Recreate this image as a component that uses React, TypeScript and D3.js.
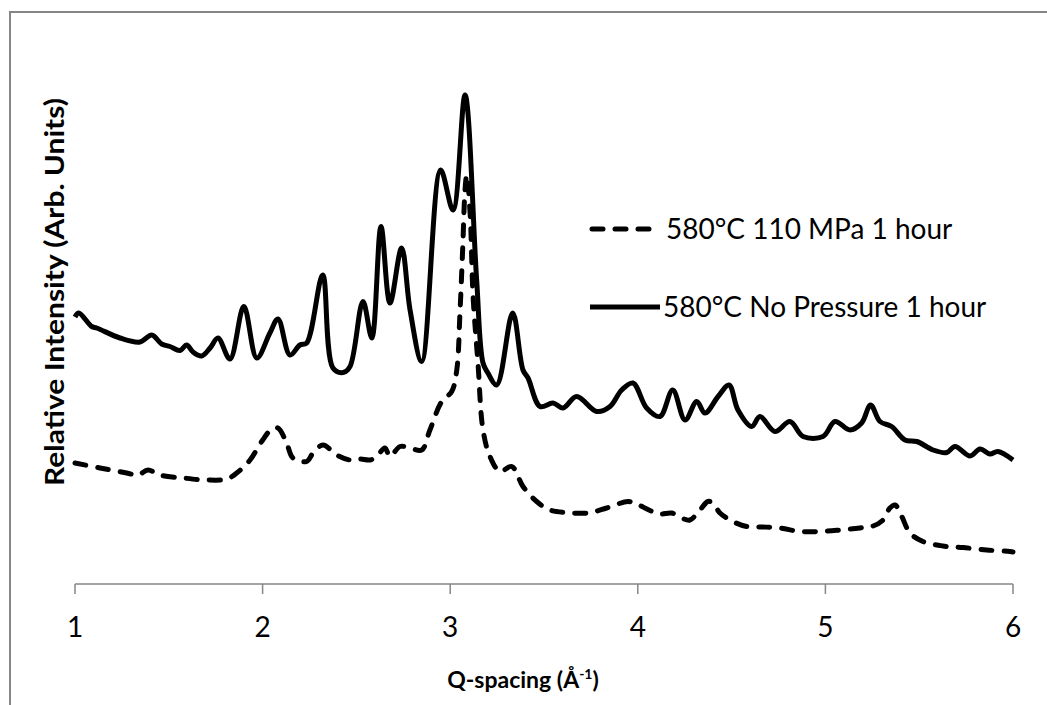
import React from "react";
import * as d3 from "d3";

const xTicks = [1, 2, 3, 4, 5, 6];

// 580°C No Pressure 1 hour (solid)
const solidQ = [1.0, 1.02, 1.089, 1.116, 1.24, 1.346, 1.409, 1.462, 1.506, 1.56, 1.595, 1.629, 1.675, 1.72, 1.762, 1.826, 1.9, 1.969, 2.039, 2.082, 2.146, 2.199, 2.235, 2.32, 2.375, 2.429, 2.466, 2.535, 2.582, 2.631, 2.679, 2.741, 2.786, 2.848, 2.949, 3.015, 3.079, 3.141, 3.175, 3.201, 3.248, 3.333, 3.388, 3.415, 3.479, 3.548, 3.601, 3.674, 3.781, 3.852, 3.914, 3.974, 4.047, 4.118, 4.186, 4.252, 4.314, 4.358, 4.428, 4.486, 4.534, 4.607, 4.651, 4.731, 4.811, 4.881, 4.987, 5.051, 5.131, 5.193, 5.241, 5.291, 5.353, 5.424, 5.487, 5.574, 5.647, 5.691, 5.771, 5.824, 5.877, 5.92, 6.0];
const solidI = [53.4, 54.2, 51.5, 51.2, 49.2, 48.4, 49.8, 48.0, 47.5, 46.7, 47.8, 46.4, 45.6, 47.2, 49.2, 45.0, 55.5, 45.2, 50.2, 53.0, 45.8, 47.8, 48.2, 61.8, 43.2, 42.3, 43.5, 56.5, 49.2, 71.5, 56.2, 67.2, 54.8, 44.5, 82.8, 74.8, 97.8, 60.8, 44.2, 42.2, 39.8, 54.2, 42.8, 41.2, 35.5, 36.2, 35.2, 37.5, 34.5, 35.5, 38.8, 40.2, 35.2, 33.5, 38.8, 32.8, 36.5, 34.2, 37.5, 39.8, 34.8, 31.5, 33.5, 30.5, 32.5, 29.5, 29.5, 32.5, 30.8, 32.2, 35.8, 32.5, 31.5, 28.8, 28.5, 26.8, 26.3, 27.5, 25.6, 27.0, 26.0, 26.5, 24.8];

// 580°C 110 MPa 1 hour (dashed)
const dashQ = [1.0, 1.133, 1.276, 1.336, 1.389, 1.453, 1.576, 1.702, 1.809, 1.862, 1.933, 1.995, 2.049, 2.082, 2.128, 2.162, 2.235, 2.269, 2.322, 2.395, 2.466, 2.519, 2.572, 2.608, 2.652, 2.679, 2.732, 2.786, 2.848, 2.892, 2.955, 3.008, 3.035, 3.052, 3.067, 3.079, 3.088, 3.106, 3.122, 3.148, 3.175, 3.212, 3.265, 3.328, 3.388, 3.461, 3.532, 3.621, 3.735, 3.834, 3.948, 3.994, 4.065, 4.118, 4.181, 4.234, 4.278, 4.331, 4.374, 4.401, 4.438, 4.507, 4.58, 4.667, 4.758, 4.864, 4.971, 5.078, 5.184, 5.254, 5.307, 5.344, 5.371, 5.407, 5.451, 5.52, 5.627, 5.733, 5.86, 5.984, 6.0];
const dashI = [24.2, 23.2, 22.2, 21.8, 22.8, 21.8, 21.2, 20.8, 21.0, 22.2, 24.8, 28.5, 31.0, 31.2, 28.2, 25.2, 24.5, 26.2, 27.8, 25.8, 24.8, 25.0, 24.8, 25.5, 27.2, 25.5, 27.5, 27.2, 26.8, 30.8, 36.5, 38.5, 42.8, 54.2, 67.5, 78.8, 81.8, 74.2, 57.5, 44.2, 30.8, 25.5, 22.5, 23.5, 19.5, 16.5, 14.8, 14.3, 14.2, 15.2, 16.5, 16.0, 14.7, 14.0, 14.2, 13.2, 12.8, 14.8, 16.5, 16.2, 14.2, 12.5, 11.5, 11.4, 11.2, 10.5, 10.5, 10.8, 11.2, 11.6, 12.8, 15.2, 15.8, 13.5, 10.2, 8.5, 7.6, 7.3, 6.8, 6.5, 6.4];

const seriesNames = ["580°C 110 MPa 1 hour", "580°C No Pressure 1 hour"];

const W = 1047;
const H = 705;
const FONT = "Lato, 'Open Sans', sans-serif";

export default function App() {
  const x = d3.scaleLinear().domain([1, 6]).range([75, 1013]);
  const y = d3.scaleLinear().domain([0, 100]).range([584, 84]);

  const line = d3
    .line<[number, number]>()
    .x((d) => x(d[0]))
    .y((d) => y(d[1]))
    .curve(d3.curveCatmullRom.alpha(0.5));

  const solidPts: [number, number][] = solidQ.map((q, i) => [q, solidI[i]]);
  const dashPts: [number, number][] = dashQ.map((q, i) => [q, dashI[i]]);

  return (
    <svg
      width={W}
      height={H}
      style={{ position: "absolute", left: 0, top: 0, background: "#fff" }}
    >
      <rect x={0} y={0} width={W} height={H} fill="#fff" />
      <rect x={10} y={12} width={W + 20} height={H + 20} fill="none" stroke="#868686" strokeWidth={2} />

      {/* x axis */}
      <line x1={x(1)} x2={x(6)} y1={584} y2={584} stroke="#868686" strokeWidth={1.5} />
      {xTicks.map((t) => (
        <g key={t}>
          <line x1={x(t)} x2={x(t)} y1={584} y2={594} stroke="#868686" strokeWidth={1.5} />
          <text
            x={x(t)}
            y={637}
            textAnchor="middle"
            fontFamily={FONT}
            fontSize={28}
            fill="#000"
          >
            {t}
          </text>
        </g>
      ))}

      {/* curves */}
      <path d={line(dashPts) || ""} fill="none" stroke="#000" strokeWidth={5} strokeDasharray="11 12" strokeLinecap="round" strokeLinejoin="round" />
      <path d={line(solidPts) || ""} fill="none" stroke="#000" strokeWidth={5} strokeLinejoin="round" />

      {/* legend */}
      <line x1={592} x2={650} y1={229} y2={229} stroke="#000" strokeWidth={5} strokeDasharray="11 12" strokeLinecap="round" />
      <text x={666} y={239} fontFamily={FONT} fontSize={28} fill="#000">
        {seriesNames[0]}
      </text>
      <line x1={590} x2={660} y1={307} y2={307} stroke="#000" strokeWidth={5} />
      <text x={663} y={317} fontFamily={FONT} fontSize={28} fill="#000">
        {seriesNames[1]}
      </text>

      {/* axis titles */}
      <text x={523} y={688} textAnchor="middle" fontFamily={FONT} fontSize={23} fontWeight="bold" fill="#000">
        Q-spacing (Å
        <tspan fontSize={14} dy={-9}>-1</tspan>
        <tspan dy={9}>)</tspan>
      </text>
      <text
        transform="translate(64,292) rotate(-90)"
        textAnchor="middle"
        fontFamily={FONT}
        fontSize={27}
        fontWeight="bold"
        fill="#000"
        textLength={388}
        lengthAdjust="spacingAndGlyphs"
      >
        Relative Intensity (Arb. Units)
      </text>
    </svg>
  );
}
